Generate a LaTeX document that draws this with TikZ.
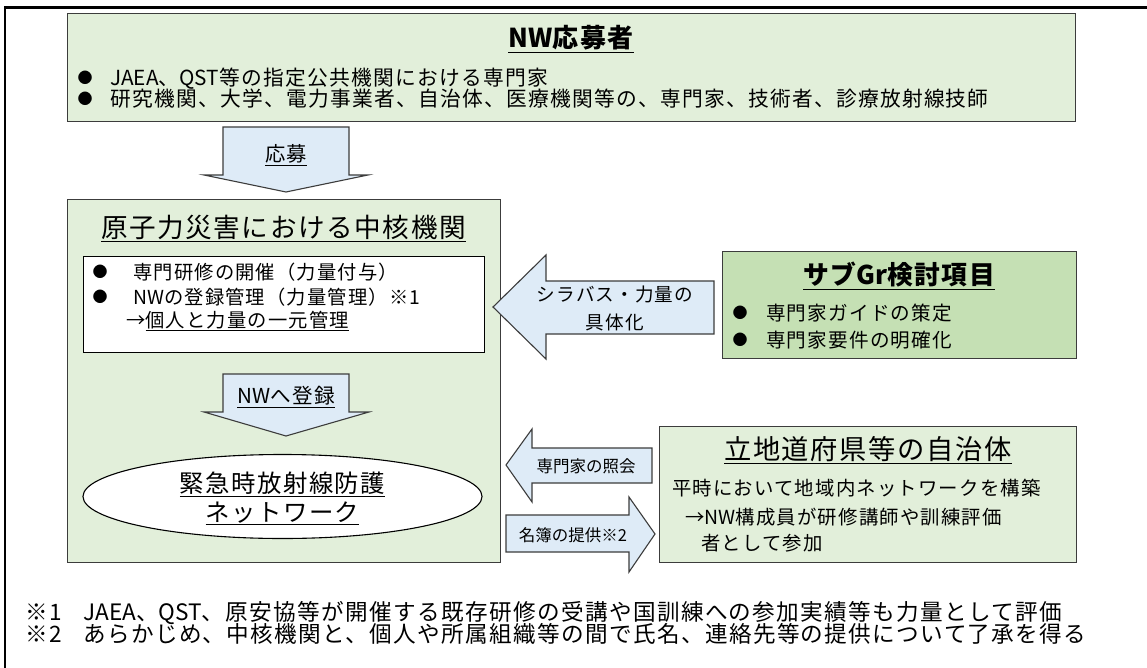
\documentclass[tikz,border=0pt]{standalone}
\usepackage{fontspec}
\setmainfont{Noto Sans CJK JP}[LetterSpace=6]
\newfontfamily\jpplain{Noto Sans CJK JP}
\usepackage{graphicx}
\usetikzlibrary{shapes.geometric}
\definecolor{lgreen}{HTML}{E2EFDA}
\definecolor{mgreen}{HTML}{C5E0B4}
\definecolor{lblue}{HTML}{DEEBF7}
\definecolor{edge}{HTML}{3C3C3C}
\newcommand{\fsz}[1]{\fontsize{#1}{#1}\selectfont}
\newcommand{\lt}[1]{{\jpplain #1}}
\tikzset{
  panel/.style={draw=edge, line width=1.1pt, anchor=north west, inner sep=0pt},
  blockarrow/.style={draw=edge, fill=lblue, line width=1.1pt, line join=miter},
  lbl/.style={inner sep=0pt, anchor=base},
  lblw/.style={inner sep=0pt, anchor=base west},
  dot/.style={inner sep=0pt, anchor=center, font=\jpplain\fsz{15}},
}
\begin{document}
\begin{tikzpicture}[x=1pt,y=-1pt]
\useasboundingbox (0,0) rectangle (1147,668);
\clip (0,0) rectangle (1147,668);
\fill[white] (0,0) rectangle (1147,668);
\draw[line width=2.4pt] (5,7.5) rectangle (1300,800);

% panels
\node[panel, fill=lgreen, minimum width=1008pt, minimum height=108pt] (applicants) at (67,13) {};
\node[panel, fill=lgreen, minimum width=433pt, minimum height=363pt] (core) at (67,199) {};
\node[panel, draw=black, fill=white, minimum width=401pt, minimum height=96pt] (duties) at (83,256) {};
\node[panel, fill=mgreen, minimum width=354pt, minimum height=107pt] (subgr) at (722,251) {};
\node[panel, fill=lgreen, minimum width=417pt, minimum height=136pt] (pref) at (659,426) {};
\node[ellipse, draw=black, fill=white, line width=1.1pt, minimum width=399pt, minimum height=84pt, inner sep=0pt] (net) at (282.5,496.5) {};

% block arrows
\draw[blockarrow] (223,127) -- (349,127) -- (349,175) -- (368,175) -- (286,192) -- (204,175) -- (223,175) -- cycle;
\draw[blockarrow] (223,374) -- (349,374) -- (349,412) -- (369,412) -- (286,436) -- (204,412) -- (223,412) -- cycle;
\draw[blockarrow] (714,281) -- (546,281) -- (546,255) -- (493,307) -- (546,359) -- (546,334) -- (714,334) -- cycle;
\draw[blockarrow] (652,448) -- (532,448) -- (532,429) -- (506,465) -- (532,502) -- (532,483) -- (652,483) -- cycle;
\draw[blockarrow] (506,515) -- (629,515) -- (629,497) -- (655,534) -- (629,572) -- (629,552) -- (506,552) -- cycle;

% applicants
\node[lbl, font=\fsz{26}\bfseries] (t1) at (571,47.9) {\underline{\lt{NW}応募者}};
\node[dot] (b1) at (85,78) {●};
\node[lblw, font=\fsz{20.75}] (l1) at (110,85.9) {\lt{JAEA}、\lt{QST}等の指定公共機関における専門家};
\node[dot] (b2) at (85,99) {●};
\node[lblw, font=\fsz{20.75}] (l2) at (110,106.9) {研究機関、大学、電力事業者、自治体、医療機関等の、専門家、技術者、診療放射線技師};

% arrow labels
\node[lbl, font=\fsz{20.3}] (a1) at (286,161.7) {\underline{応募}};
\node[lbl, font=\fsz{20.6}] (a2) at (286,403.8) {\underline{\lt{NW}へ登録}};
\node[lbl, font=\fsz{18.6}] (a3) at (615,301.1) {シラバス・力量の};
\node[lbl, font=\fsz{18.6}] (a4) at (615,329.1) {具体化};
\node[lbl, font=\jpplain\fsz{16.5}] (a5) at (586,472.3) {専門家の照会};
\node[lbl, font=\jpplain\fsz{16.5}] (a6) at (573,541.3) {名簿の提供※2};

% core
\node[lbl, font=\fsz{26.6}] (t2) at (283.5,237.1) {\underline{原子力災害における中核機関}};
\node[dot] (b3) at (100,272) {●};
\node[lblw, font=\fsz{19.3}] (d1) at (133,279.3) {専門研修の開催（力量付与）};
\node[dot] (b4) at (100,297) {●};
\node[lblw, font=\fsz{19.3}] (d2) at (133,304.3) {\lt{NW}の登録管理（力量管理）※1};
\node[lblw, font=\fsz{19.3}] (d3) at (126,327.3) {→\underline{個人と力量の一元管理}};
\node[lbl, font=\fsz{24.4}] (n1) at (282.5,492.3) {\underline{緊急時放射線防護}};
\node[lbl, font=\fsz{24.4}] (n2) at (282.5,521.3) {\underline{ネットワーク}};

% sub group
\node[lbl, font=\fsz{25.8}\bfseries] (t3) at (899,284.8) {\underline{サブ\lt{Gr}検討項目}};
\node[dot] (b5) at (740,313) {●};
\node[lblw, font=\fsz{19.6}] (s1) at (766,320.4) {専門家ガイドの策定};
\node[dot] (b6) at (740,340) {●};
\node[lblw, font=\fsz{19.6}] (s2) at (766,347.4) {専門家要件の明確化};

% prefecture
\node[lbl, font=\fsz{27.3}] (t4) at (868,459.4) {\underline{立地道府県等の自治体}};
\node[lblw, font=\fsz{19.4}] (p1) at (672,495.4) {平時において地域内ネットワークを構築};
\node[lblw, font=\fsz{19.4}] (p2) at (685,524.4) {→\lt{NW}構成員が研修講師や訓練評価};
\node[lblw, font=\fsz{19.4}] (p3) at (701,550.4) {者として参加};

% footnotes
\node[lblw, font=\fsz{22.6}] (f1) at (25,620.6) {\makebox[58pt][l]{※1}\lt{JAEA}、\lt{QST}、原安協等が開催する既存研修の受講や国訓練への参加実績等も力量として評価};
\node[lblw, font=\fsz{22.6}] (f2) at (25,642.6) {\makebox[58pt][l]{※2}あらかじめ、中核機関と、個人や所属組織等の間で氏名、連絡先等の提供について了承を得る};
\end{tikzpicture}
\end{document}
